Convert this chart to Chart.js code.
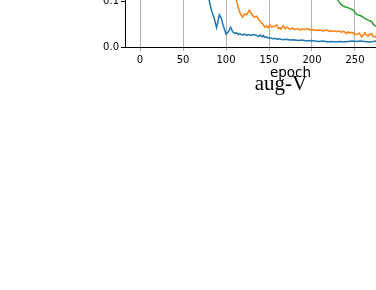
<!DOCTYPE html>
<html>
<head>
<meta charset="utf-8">
<script src="https://cdn.jsdelivr.net/npm/chart.js@4"></script>
<style>
  html, body { margin: 0; padding: 0; background: #fff; }
  body { width: 376px; height: 290px; overflow: hidden; position: relative; }
  #wrap { position: absolute; left: 0; top: -99px; width: 470px; height: 185px; }
  #title {
    position: absolute; left: 281px; top: 73px; transform: translateX(-50%);
    font-family: "Liberation Serif", serif; font-size: 21px; line-height: 21px;
    color: #000; white-space: nowrap;
  }
</style>
</head>
<body>
<div id="wrap"><canvas id="chart" width="470" height="185"></canvas></div>
<div id="title">aug-V</div>
<script>
const blueEpochs = [76, 80.6, 83.3, 86, 89, 92.2, 94.2, 96.9, 100, 102.7, 105.4, 107.7, 110.4, 112, 114.3, 116, 119, 121, 124, 126, 129, 132, 135.7, 138, 140, 142, 143.4, 145, 147.3, 149, 151.2, 154, 156, 159, 162, 166, 170, 174.4, 178, 184, 188, 193.8, 198, 203, 208, 213.2, 218, 222, 227, 232.6, 237, 242, 247, 252, 256, 261, 266, 271.3, 275, 280]
const blueValues = [0.16, 0.100, 0.078, 0.064, 0.042, 0.070, 0.064, 0.046, 0.028, 0.033, 0.043, 0.033, 0.029, 0.031, 0.027, 0.029, 0.026, 0.028, 0.025, 0.027, 0.025, 0.027, 0.025, 0.023, 0.026, 0.022, 0.025, 0.021, 0.022, 0.019, 0.020, 0.018, 0.019, 0.017, 0.018, 0.016, 0.017, 0.015, 0.016, 0.014, 0.015, 0.013, 0.014, 0.013, 0.012, 0.013, 0.011, 0.012, 0.011, 0.012, 0.011, 0.012, 0.013, 0.012, 0.013, 0.012, 0.011, 0.012, 0.013, 0.012]

const orangeEpochs = [108, 112.4, 114.3, 117, 119.4, 121.3, 124, 127.1, 129.9, 132.6, 135.7, 138.7, 141.5, 145.3, 147, 149.2, 151, 153.1, 156, 159, 161, 162.8, 164, 166.6, 169, 171, 174.4, 177, 180, 183, 186, 189, 192, 195, 197.7, 201, 205, 209, 213.2, 217, 221, 225, 228.7, 231, 234, 237, 240.4, 242, 244, 246, 248.1, 250, 252, 255, 257.8, 260, 261.7, 263, 265.5, 267, 269.5, 271, 273.3, 276, 280]
const orangeValues = [0.14, 0.100, 0.085, 0.071, 0.065, 0.072, 0.070, 0.080, 0.071, 0.065, 0.067, 0.058, 0.053, 0.043, 0.046, 0.042, 0.048, 0.043, 0.045, 0.048, 0.040, 0.042, 0.039, 0.046, 0.040, 0.043, 0.039, 0.041, 0.038, 0.040, 0.037, 0.039, 0.038, 0.040, 0.037, 0.038, 0.036, 0.037, 0.035, 0.037, 0.034, 0.035, 0.033, 0.035, 0.032, 0.034, 0.029, 0.033, 0.030, 0.032, 0.031, 0.027, 0.028, 0.030, 0.022, 0.027, 0.031, 0.026, 0.024, 0.028, 0.029, 0.023, 0.022, 0.026, 0.025]

const greenEpochs = [226, 230.7, 233.4, 236.4, 239, 242.3, 245, 248.1, 250, 252, 255, 257.8, 260, 263.6, 266, 269.5, 271, 273.3, 280]
const greenValues = [0.13, 0.100, 0.093, 0.089, 0.087, 0.085, 0.083, 0.080, 0.075, 0.071, 0.069, 0.067, 0.064, 0.060, 0.058, 0.055, 0.050, 0.046, 0.042]

const xTicks = [0, 50, 100, 150, 200, 250, 300, 350]
const yTicks = [0.0, 0.1, 0.2]

function toPoints(xs, ys) {
  return xs.map((x, i) => ({ x, y: ys[i] }))
}

function series(label, xs, ys, color) {
  return {
    label,
    data: toPoints(xs, ys),
    borderColor: color,
    backgroundColor: color,
    borderWidth: 1.5,
    pointRadius: 0,
    tension: 0
  }
}

const ctx = document.getElementById('chart').getContext('2d')
new Chart(ctx, {
  type: 'line',
  data: {
    datasets: [
      series('blue', blueEpochs, blueValues, '#1f77b4'),
      series('orange', orangeEpochs, orangeValues, '#ff7f0e'),
      series('green', greenEpochs, greenValues, '#2ca02c')
    ]
  },
  options: {
    responsive: false,
    animation: false,
    layout: { padding: { top: 54, right: 14, left: 0, bottom: 0 } },
    plugins: { legend: { display: false }, tooltip: { enabled: false } },
    scales: {
      x: {
        type: 'linear',
        min: -17.5,
        max: 367.5,
        afterBuildTicks: scale => { scale.ticks = xTicks.map(v => ({ value: v })) },
        afterFit: scale => { scale.height = 39 },
        grid: { color: '#b0b0b0', lineWidth: 1, tickLength: 4, drawOnChartArea: true },
        border: { display: true, color: '#000', width: 1 },
        ticks: {
          color: '#000', padding: 3, maxRotation: 0,
          font: { family: 'DejaVu Sans', size: 10 },
          callback: v => String(v)
        },
        title: {
          display: true, text: 'epoch', color: '#000',
          font: { family: 'DejaVu Sans', size: 13.5 },
          padding: { top: 4, bottom: 4 }
        }
      },
      y: {
        type: 'linear',
        min: 0,
        max: 0.2,
        afterBuildTicks: scale => { scale.ticks = yTicks.map(v => ({ value: v })) },
        afterFit: scale => { scale.width = 125 },
        grid: { drawOnChartArea: false, color: '#000', tickLength: 4 },
        border: { display: true, color: '#000', width: 1 },
        ticks: {
          color: '#000', padding: 2,
          font: { family: 'DejaVu Sans', size: 10 },
          callback: v => Number(v).toFixed(1)
        }
      }
    }
  }
})
</script>
</body>
</html>
